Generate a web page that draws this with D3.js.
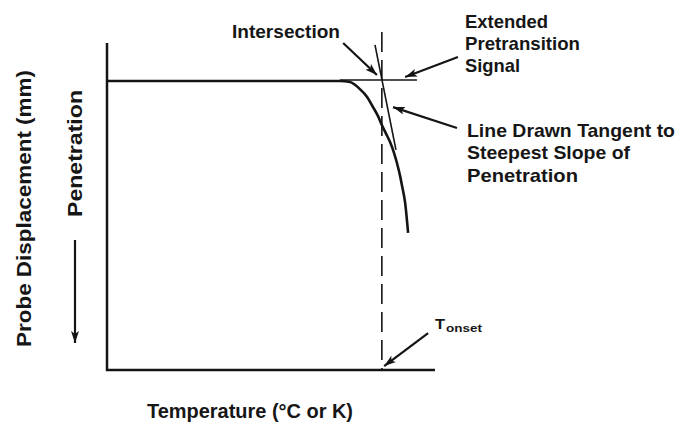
<!DOCTYPE html>
<html>
<head>
<meta charset="utf-8">
<script src="https://cdn.jsdelivr.net/npm/d3@7"></script>
<style>
  body { margin: 0; background: #fff; }
  text { font-family: "Liberation Sans", Arial, Helvetica, sans-serif; font-weight: bold; fill: #161616; }
</style>
</head>
<body>
<div id="chart"></div>
<script>
// Penetration curve (temperature in arbitrary units 0-100, probe displacement 0-100, down = penetration)
const temperature = [0, 71.0, 74.1, 77.1, 79.3, 81.1, 82.6, 83.8, 85.1, 86.3, 87.5, 88.4, 89.3, 89.9, 90.9, 91.8];
const displacement = [11.6, 11.6, 11.9, 14.1, 16.5, 19.6, 22.3, 25.1, 27.8, 30.3, 33.6, 36.7, 40.4, 43.4, 48.9, 58.1];

// Extended pretransition baseline and tangent to steepest slope
const baselineTemp = [71.0, 94.5];
const baselineValue = [11.3, 11.3];
const tangentTemp = [81.7, 88.1];
const tangentValue = [0.6, 32.7];

// Onset temperature (intersection of the two lines)
const onsetTemp = 83.8;

// Annotation arrows: [fromTemp, fromValue, toTemp, toValue]
const arrowIntersection = [72.0, 0.0, 82.3, 9.8];
const arrowExtended = [107.0, 4.3, 90.9, 10.4];
const arrowTangent = [106.7, 26.0, 87.2, 19.6];
const arrowOnset = [97.9, 88.7, 84.5, 98.8];

const width = 678;
const height = 423;

const svg = d3.select('#chart')
  .append('svg')
  .attr('width', width)
  .attr('height', height);

// Scales: the axes have no ticks, just the frame lines
const x = d3.scaleLinear().domain([0, 100]).range([107, 435]);
const y = d3.scaleLinear().domain([0, 100]).range([43, 370]);

const line = d3.line().x(d => x(d[0])).y(d => y(d[1]));
const ink = '#141414';

// arrowhead marker
svg.append('defs')
  .append('marker')
  .attr('id', 'head')
  .attr('viewBox', '0 0 12 8')
  .attr('refX', 12)
  .attr('refY', 4)
  .attr('markerWidth', 12)
  .attr('markerHeight', 8)
  .attr('markerUnits', 'userSpaceOnUse')
  .attr('orient', 'auto')
  .append('path')
  .attr('d', 'M0,0 L12,4 L0,8 L3,4 Z')
  .attr('fill', ink);

// axes (left and bottom)
svg.append('path')
  .attr('d', line([[0, 0], [0, 100], [100, 100]]))
  .attr('fill', 'none')
  .attr('stroke', ink)
  .attr('stroke-width', 2.5);

// dashed vertical at T onset
svg.append('line')
  .attr('x1', x(onsetTemp)).attr('x2', x(onsetTemp))
  .attr('y1', y(-3.4)).attr('y2', y(100))
  .attr('stroke', ink)
  .attr('stroke-width', 1.6)
  .attr('stroke-dasharray', '20,8');

// extended pretransition signal
svg.append('path')
  .attr('d', line(d3.zip(baselineTemp, baselineValue)))
  .attr('fill', 'none')
  .attr('stroke', ink)
  .attr('stroke-width', 1.6);

// tangent line
svg.append('path')
  .attr('d', line(d3.zip(tangentTemp, tangentValue)))
  .attr('fill', 'none')
  .attr('stroke', ink)
  .attr('stroke-width', 1.6);

// penetration curve
svg.append('path')
  .attr('d', d3.line().curve(d3.curveMonotoneX).x(d => x(d[0])).y(d => y(d[1]))(d3.zip(temperature, displacement)))
  .attr('fill', 'none')
  .attr('stroke', ink)
  .attr('stroke-width', 2.6);

// annotation arrows
[arrowIntersection, arrowExtended, arrowTangent, arrowOnset].forEach(a => {
  svg.append('line')
    .attr('x1', x(a[0])).attr('y1', y(a[1]))
    .attr('x2', x(a[2])).attr('y2', y(a[3]))
    .attr('stroke', ink)
    .attr('stroke-width', 2.2)
    .attr('marker-end', 'url(#head)');
});

// labels
function label(txt, px, py, size, len) {
  return svg.append('text')
    .attr('x', px)
    .attr('y', py)
    .attr('font-size', size)
    .attr('textLength', len)
    .attr('lengthAdjust', 'spacingAndGlyphs')
    .text(txt);
}

label('Intersection', 232, 38, 18, 108);

label('Extended', 465, 28, 19, 83);
label('Pretransition', 465, 50, 19, 115);
label('Signal', 465, 72, 19, 55);

label('Line Drawn Tangent to', 467, 137, 19, 208);
label('Steepest Slope of', 467, 159, 19, 163);
label('Penetration', 467, 182, 19, 111);

label('T', 435, 329, 15, 10);
label('onset', 446, 332, 10, 36);

label('Temperature (°C or K)', 147, 418, 21, 206);

// y axis titles (rotated)
svg.append('text')
  .attr('transform', 'translate(31,347) rotate(-90)')
  .attr('font-size', 21)
  .attr('textLength', 277)
  .attr('lengthAdjust', 'spacingAndGlyphs')
  .text('Probe Displacement (mm)');

svg.append('text')
  .attr('transform', 'translate(82,217) rotate(-90)')
  .attr('font-size', 21)
  .attr('textLength', 127)
  .attr('lengthAdjust', 'spacingAndGlyphs')
  .text('Penetration');

// downward arrow next to "Penetration"
svg.append('line')
  .attr('x1', 75).attr('y1', 240)
  .attr('x2', 75).attr('y2', 343)
  .attr('stroke', ink)
  .attr('stroke-width', 2.2)
  .attr('marker-end', 'url(#head)');
</script>
</body>
</html>
